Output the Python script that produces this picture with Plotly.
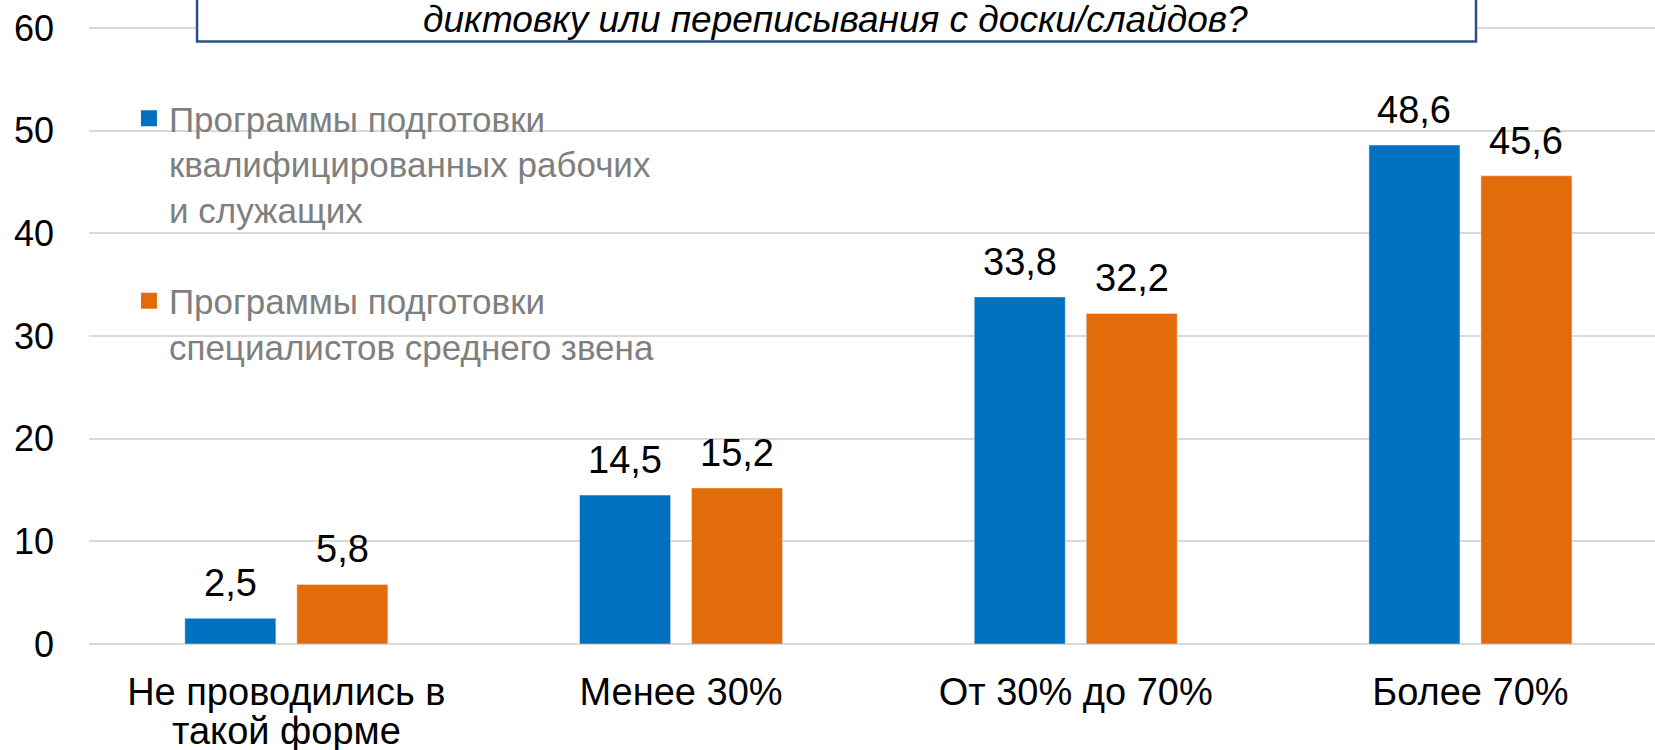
import plotly.graph_objects as go

categories = ["Не проводились в<br>такой форме", "Менее 30%", "От 30% до 70%", "Более 70%"]
tick_line1 = ["Не проводились в", "Менее 30%", "От 30% до 70%", "Более 70%"]
tick_line2 = ["такой форме", "", "", ""]
series_names = [
    "Программы подготовки<br>квалифицированных рабочих<br>и служащих",
    "Программы подготовки<br>специалистов среднего звена",
]
values_workers = [2.5, 14.5, 33.8, 48.6]
values_specialists = [5.8, 15.2, 32.2, 45.6]
y_ticks = [0, 10, 20, 30, 40, 50, 60]
title_text = "диктовку или переписывания с доски/слайдов?"

BLUE = "#0070C0"
ORANGE = "#E36C0A"
FONT = "Liberation Sans, Arial, sans-serif"

fig = go.Figure()
fig.add_trace(go.Bar(x=categories, y=values_workers, name=series_names[0],
                     marker=dict(color=BLUE), showlegend=False, hoverinfo="skip"))
fig.add_trace(go.Bar(x=categories, y=values_specialists, name=series_names[1],
                     marker=dict(color=ORANGE), showlegend=False, hoverinfo="skip"))

# legend entries (square swatches)
for name, col, grp in ((series_names[0], BLUE, "a"), (series_names[1], ORANGE, "b")):
    fig.add_trace(go.Scatter(x=[None], y=[None], mode="markers", name=name, legendgroup=grp,
                             marker=dict(symbol="square", size=19, color=col), hoverinfo="skip"))

# value labels above bars
for vals, shift in ((values_workers, -56), (values_specialists, 56)):
    for c, v in zip(categories, vals):
        fig.add_annotation(x=c, y=v, text=f"{v:.1f}".replace(".", ","),
                           showarrow=False, yanchor="bottom", xshift=shift, yshift=12,
                           font=dict(family=FONT, size=38, color="#000000"))

# second line of category labels (tighter line spacing as in the original)
for c, t in zip(categories, tick_line2):
    if t:
        fig.add_annotation(x=c, xref="x", yref="paper", y=-0.1385, text=t, showarrow=False,
                           yanchor="middle", borderpad=0,
                           font=dict(family=FONT, size=38, color="#000000"))

# title box (partially cut off at the top)
fig.add_shape(type="rect", xref="paper", yref="paper", x0=0.069, x1=0.8857, y0=0.9625, y1=1.1,
              line=dict(color="#2B5283", width=2.5), fillcolor="white", layer="above")
fig.add_annotation(xref="paper", yref="paper", x=0.4767, y=0.9984, text=f"<i>{title_text}</i>",
                   showarrow=False, yanchor="middle", xanchor="center",
                   font=dict(family=FONT, size=37, color="#000000"))

fig.update_layout(
    width=1655, height=750, autosize=False,
    margin=dict(l=89, r=0, t=18, b=106),
    plot_bgcolor="white", paper_bgcolor="white",
    barmode="group", bargap=0.4325, bargroupgap=0.1875,
    font=dict(family=FONT, size=36, color="#000000"),
    legend=dict(x=0.0255, y=0.8866, xanchor="left", yanchor="top",
                font=dict(family=FONT, size=35, color="#7F7F7F"),
                tracegroupgap=43, valign="top", bgcolor="rgba(0,0,0,0)"),
    showlegend=True,
)
fig.update_xaxes(range=[-0.5, 3.4676], showgrid=False, showline=False, ticks="",
                 tickvals=categories, ticktext=tick_line1,
                 tickfont=dict(size=38, color="#000000"), ticklabelstandoff=22)
fig.update_yaxes(range=[0, 60.97], tickvals=y_ticks, showgrid=True, gridcolor="#D9D9D9", gridwidth=2,
                 zeroline=True, zerolinecolor="#D9D9D9", zerolinewidth=2, showline=False,
                 tickfont=dict(size=36, color="#000000"), ticklabelstandoff=34)

fig.write_html("out.html", config={"displayModeBar": False},
               post_script="document.body.style.margin='0';document.body.style.overflow='hidden';")
